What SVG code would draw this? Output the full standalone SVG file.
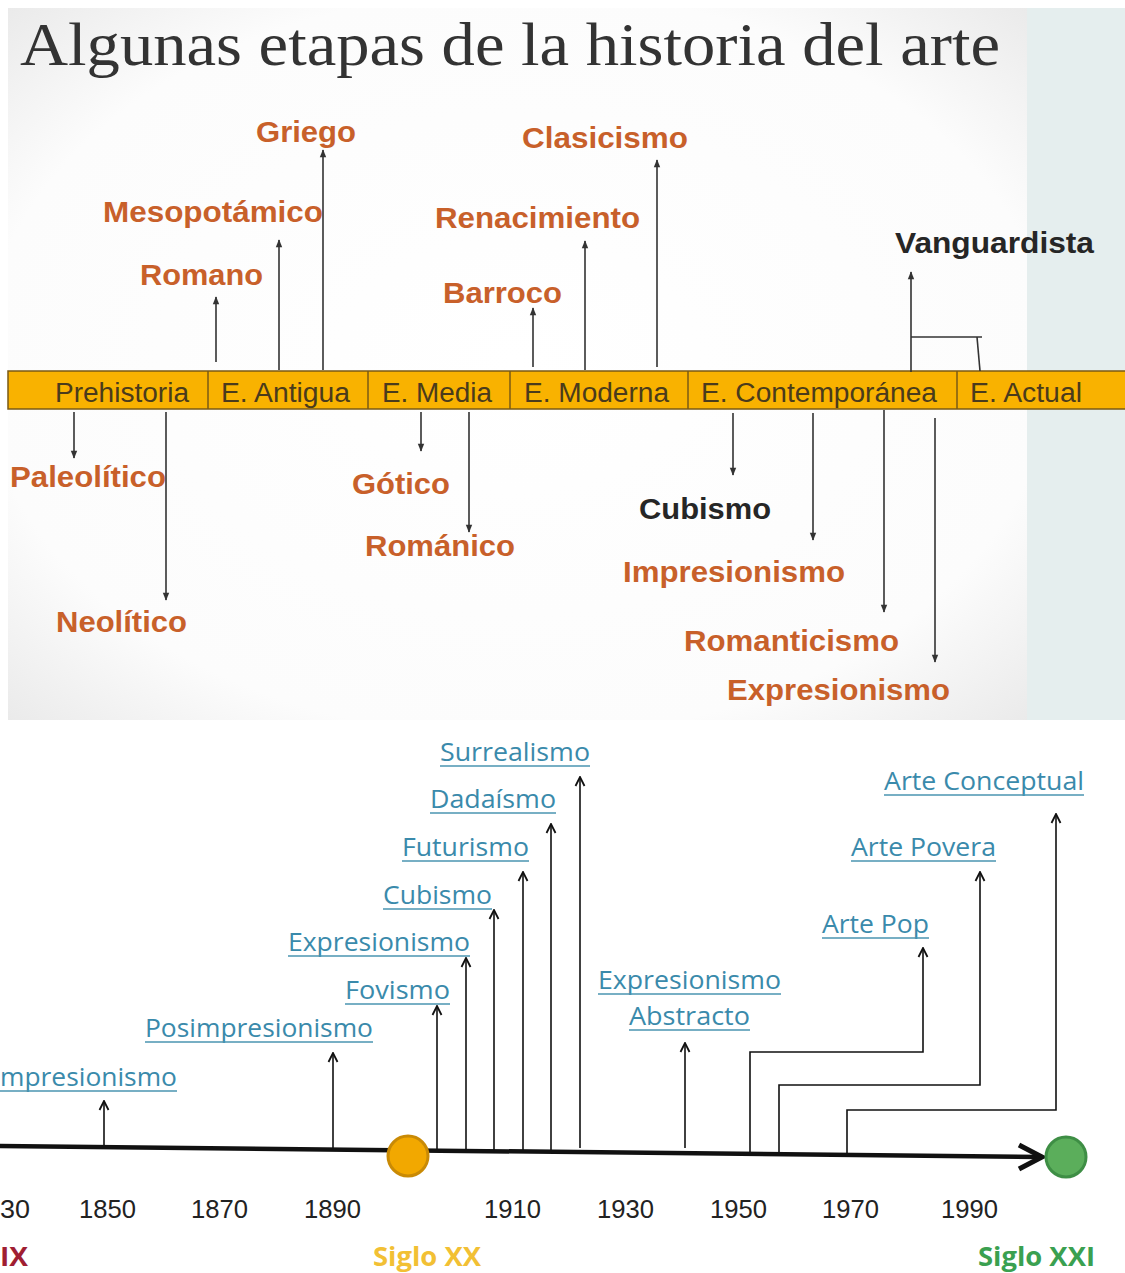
<svg xmlns="http://www.w3.org/2000/svg" width="1125" height="1273" viewBox="0 0 1125 1273">
<defs>
<radialGradient id="bg" cx="0.5" cy="0.5" r="0.75">
<stop offset="0" stop-color="#ffffff"/>
<stop offset="0.7" stop-color="#fcfcfc"/>
<stop offset="1" stop-color="#e6e6e6"/>
</radialGradient>
<marker id="tri" viewBox="0 0 10 10" refX="9" refY="5" markerWidth="9" markerHeight="8" orient="auto" markerUnits="userSpaceOnUse">
<path d="M0,1 L10,5 L0,9 Z" fill="#333"/>
</marker>
<marker id="chev" viewBox="0 0 12 12" refX="11" refY="6" markerWidth="12" markerHeight="12" orient="auto" markerUnits="userSpaceOnUse">
<polyline points="2,1.5 11,6 2,10.5" fill="none" stroke="#111" stroke-width="1.8"/>
</marker>
</defs>
<style>
.bar{font-family:"Liberation Sans",Arial,sans-serif;font-size:27px;fill:#4a3b1c}
.or{font-family:"Liberation Sans",Arial,sans-serif;font-size:29px;font-weight:bold;fill:#C8602A}
.bk{font-family:"Liberation Sans",Arial,sans-serif;font-size:29px;font-weight:bold;fill:#262626}
.ln{stroke:#333;stroke-width:1.6;fill:none}
.up{stroke:#333;stroke-width:1.6;fill:none;marker-end:url(#tri)}
.bl{font-family:"Open Sans","Noto Sans",sans-serif;font-size:26px;fill:#3a8aab}
.ul{stroke:#4a94b0;stroke-width:1.6}
.ar{stroke:#111;stroke-width:1.6;fill:none;marker-end:url(#chev)}
.yr{font-family:"Liberation Sans",Arial,sans-serif;font-size:26px;fill:#222}
.sg{font-family:"Open Sans","Noto Sans",sans-serif;font-size:27px;font-weight:bold}
</style>
<rect x="0" y="0" width="1125" height="1273" fill="#ffffff"/>
<rect x="8" y="8" width="1019" height="712" fill="url(#bg)"/>
<rect x="1027" y="8" width="98" height="712" fill="#e5eeee"/>
<text x="20" y="65" font-family="'Liberation Serif',serif" font-size="62" fill="#333" textLength="980" lengthAdjust="spacingAndGlyphs">Algunas etapas de la historia del arte</text>

<g id="timeline-bar">
<rect x="8" y="371" width="1125" height="38" fill="#F9B200" stroke="#7a5a14" stroke-width="1.5"/>
<g stroke="#7a5a14" stroke-width="1.5">
<line x1="208" y1="371" x2="208" y2="409"/>
<line x1="368" y1="371" x2="368" y2="409"/>
<line x1="510" y1="371" x2="510" y2="409"/>
<line x1="688" y1="371" x2="688" y2="409"/>
<line x1="957" y1="371" x2="957" y2="409"/>
</g>
</g>
<g id="era-prehistoria"><text class="bar" x="55" y="402" textLength="134" lengthAdjust="spacingAndGlyphs">Prehistoria</text></g>
<g id="era-antigua"><text class="bar" x="221" y="402" textLength="129" lengthAdjust="spacingAndGlyphs">E. Antigua</text></g>
<g id="era-media"><text class="bar" x="382" y="402" textLength="110" lengthAdjust="spacingAndGlyphs">E. Media</text></g>
<g id="era-moderna"><text class="bar" x="524" y="402" textLength="145" lengthAdjust="spacingAndGlyphs">E. Moderna</text></g>
<g id="era-contemporanea"><text class="bar" x="701" y="402" textLength="236" lengthAdjust="spacingAndGlyphs">E. Contemporánea</text></g>
<g id="era-actual"><text class="bar" x="970" y="402" textLength="112" lengthAdjust="spacingAndGlyphs">E. Actual</text></g>

<g id="n-griego"><text class="or" x="256" y="142" textLength="100" lengthAdjust="spacingAndGlyphs">Griego</text></g>
<g id="n-mesopotamico"><text class="or" x="103" y="222" textLength="220" lengthAdjust="spacingAndGlyphs">Mesopotámico</text></g>
<g id="n-romano"><text class="or" x="140" y="285" textLength="123" lengthAdjust="spacingAndGlyphs">Romano</text></g>
<g id="n-clasicismo"><text class="or" x="522" y="148" textLength="166" lengthAdjust="spacingAndGlyphs">Clasicismo</text></g>
<g id="n-renacimiento"><text class="or" x="435" y="228" textLength="205" lengthAdjust="spacingAndGlyphs">Renacimiento</text></g>
<g id="n-barroco"><text class="or" x="443" y="303" textLength="119" lengthAdjust="spacingAndGlyphs">Barroco</text></g>
<g id="n-vanguardista"><text class="bk" x="895" y="253" textLength="199" lengthAdjust="spacingAndGlyphs">Vanguardista</text></g>
<g id="n-paleolitico"><text class="or" x="10" y="487" textLength="156" lengthAdjust="spacingAndGlyphs">Paleolítico</text></g>
<g id="n-neolitico"><text class="or" x="56" y="632" textLength="131" lengthAdjust="spacingAndGlyphs">Neolítico</text></g>
<g id="n-gotico"><text class="or" x="352" y="494" textLength="98" lengthAdjust="spacingAndGlyphs">Gótico</text></g>
<g id="n-romanico"><text class="or" x="365" y="556" textLength="150" lengthAdjust="spacingAndGlyphs">Románico</text></g>
<g id="n-cubismo"><text class="bk" x="639" y="519" textLength="132" lengthAdjust="spacingAndGlyphs">Cubismo</text></g>
<g id="n-impresionismo"><text class="or" x="623" y="582" textLength="222" lengthAdjust="spacingAndGlyphs">Impresionismo</text></g>
<g id="n-romanticismo"><text class="or" x="684" y="651" textLength="215" lengthAdjust="spacingAndGlyphs">Romanticismo</text></g>
<g id="n-expresionismo"><text class="or" x="727" y="700" textLength="223" lengthAdjust="spacingAndGlyphs">Expresionismo</text></g>

<g id="connectors-top">
<line class="up" x1="216" y1="362" x2="216" y2="297"/>
<line class="up" x1="279" y1="370" x2="279" y2="240"/>
<line class="up" x1="323" y1="370" x2="323" y2="150"/>
<line class="up" x1="533" y1="367" x2="533" y2="308"/>
<line class="up" x1="585" y1="370" x2="585" y2="241"/>
<line class="up" x1="657" y1="367" x2="657" y2="160"/>
<line class="up" x1="911" y1="372" x2="911" y2="272"/>
<polyline class="ln" points="911,337 982,337"/>
<line class="ln" x1="977" y1="337" x2="980" y2="371"/>
<line class="up" x1="74" y1="412" x2="74" y2="458"/>
<line class="up" x1="166" y1="412" x2="166" y2="600"/>
<line class="up" x1="421" y1="412" x2="421" y2="451"/>
<line class="up" x1="469" y1="412" x2="469" y2="532"/>
<line class="up" x1="733" y1="413" x2="733" y2="475"/>
<line class="up" x1="813" y1="413" x2="813" y2="540"/>
<line class="up" x1="884" y1="410" x2="884" y2="612"/>
<line class="up" x1="935" y1="418" x2="935" y2="662"/>
</g>

<g id="b-impresionismo"><text class="bl" x="0" y="1086" textLength="177" lengthAdjust="spacingAndGlyphs">mpresionismo</text><line class="ul" x1="0" y1="1091" x2="177" y2="1091"/></g>
<g id="b-posimpresionismo"><text class="bl" x="145" y="1037" textLength="228" lengthAdjust="spacingAndGlyphs">Posimpresionismo</text><line class="ul" x1="145" y1="1042" x2="373" y2="1042"/></g>
<g id="b-fovismo"><text class="bl" x="345" y="999" textLength="105" lengthAdjust="spacingAndGlyphs">Fovismo</text><line class="ul" x1="345" y1="1004" x2="450" y2="1004"/></g>
<g id="b-expresionismo"><text class="bl" x="288" y="951" textLength="182" lengthAdjust="spacingAndGlyphs">Expresionismo</text><line class="ul" x1="288" y1="956" x2="470" y2="956"/></g>
<g id="b-cubismo"><text class="bl" x="383" y="904" textLength="109" lengthAdjust="spacingAndGlyphs">Cubismo</text><line class="ul" x1="383" y1="909" x2="492" y2="909"/></g>
<g id="b-futurismo"><text class="bl" x="402" y="856" textLength="127" lengthAdjust="spacingAndGlyphs">Futurismo</text><line class="ul" x1="402" y1="861" x2="529" y2="861"/></g>
<g id="b-dadaismo"><text class="bl" x="430" y="808" textLength="126" lengthAdjust="spacingAndGlyphs">Dadaísmo</text><line class="ul" x1="430" y1="813" x2="556" y2="813"/></g>
<g id="b-surrealismo"><text class="bl" x="440" y="761" textLength="150" lengthAdjust="spacingAndGlyphs">Surrealismo</text><line class="ul" x1="440" y1="766" x2="590" y2="766"/></g>
<g id="b-expabstracto"><text class="bl" x="598" y="989" textLength="183" lengthAdjust="spacingAndGlyphs">Expresionismo</text><line class="ul" x1="598" y1="994" x2="781" y2="994"/><text class="bl" x="629" y="1025" textLength="121" lengthAdjust="spacingAndGlyphs">Abstracto</text><line class="ul" x1="629" y1="1030" x2="750" y2="1030"/></g>
<g id="b-artepop"><text class="bl" x="822" y="933" textLength="107" lengthAdjust="spacingAndGlyphs">Arte Pop</text><line class="ul" x1="822" y1="938" x2="929" y2="938"/></g>
<g id="b-artepovera"><text class="bl" x="851" y="856" textLength="145" lengthAdjust="spacingAndGlyphs">Arte Povera</text><line class="ul" x1="851" y1="861" x2="996" y2="861"/></g>
<g id="b-arteconceptual"><text class="bl" x="884" y="790" textLength="200" lengthAdjust="spacingAndGlyphs">Arte Conceptual</text><line class="ul" x1="884" y1="795" x2="1084" y2="795"/></g>

<g id="connectors-bottom">
<line class="ar" x1="104" y1="1146" x2="104" y2="1101"/>
<line class="ar" x1="333" y1="1148" x2="333" y2="1053"/>
<line class="ar" x1="437" y1="1152" x2="437" y2="1006"/>
<line class="ar" x1="466" y1="1152" x2="466" y2="958"/>
<line class="ar" x1="494" y1="1152" x2="494" y2="910"/>
<line class="ar" x1="523" y1="1150" x2="523" y2="872"/>
<line class="ar" x1="551" y1="1150" x2="551" y2="824"/>
<line class="ar" x1="580" y1="1148" x2="580" y2="777"/>
<line class="ar" x1="685" y1="1148" x2="685" y2="1043"/>
<polyline class="ar" points="750,1156 750,1052 923,1052 923,948"/>
<polyline class="ar" points="779,1156 779,1085 980,1085 980,872"/>
<polyline class="ar" points="847,1156 847,1110 1056,1110 1056,814"/>
</g>

<g id="axis">
<line x1="0" y1="1146" x2="1040" y2="1157" stroke="#111" stroke-width="4.5"/>
<polyline points="1019,1145 1042,1157 1019,1169" fill="none" stroke="#111" stroke-width="5" stroke-linejoin="miter"/>
</g>
<g id="c-xx"><circle cx="408" cy="1156" r="20" fill="#F2A800" stroke="#C98A05" stroke-width="3"/></g>
<g id="c-xxi"><circle cx="1066" cy="1157" r="20" fill="#5BAE5B" stroke="#3E8E45" stroke-width="3"/></g>

<g id="years">
<text class="yr" x="0" y="1218" textLength="30" lengthAdjust="spacingAndGlyphs">30</text>
<text class="yr" x="79" y="1218" textLength="57" lengthAdjust="spacingAndGlyphs">1850</text>
<text class="yr" x="191" y="1218" textLength="57" lengthAdjust="spacingAndGlyphs">1870</text>
<text class="yr" x="304" y="1218" textLength="57" lengthAdjust="spacingAndGlyphs">1890</text>
<text class="yr" x="484" y="1218" textLength="57" lengthAdjust="spacingAndGlyphs">1910</text>
<text class="yr" x="597" y="1218" textLength="57" lengthAdjust="spacingAndGlyphs">1930</text>
<text class="yr" x="710" y="1218" textLength="57" lengthAdjust="spacingAndGlyphs">1950</text>
<text class="yr" x="822" y="1218" textLength="57" lengthAdjust="spacingAndGlyphs">1970</text>
<text class="yr" x="941" y="1218" textLength="57" lengthAdjust="spacingAndGlyphs">1990</text>
</g>
<g id="centuries">
<text class="sg" x="0" y="1266" fill="#A01E32" textLength="28" lengthAdjust="spacingAndGlyphs">IX</text>
<text class="sg" x="373" y="1266" fill="#F2C034" textLength="108" lengthAdjust="spacingAndGlyphs">Siglo XX</text>
<text class="sg" x="978" y="1266" fill="#3AA050" textLength="117" lengthAdjust="spacingAndGlyphs">Siglo XXI</text>
</g>
</svg>
